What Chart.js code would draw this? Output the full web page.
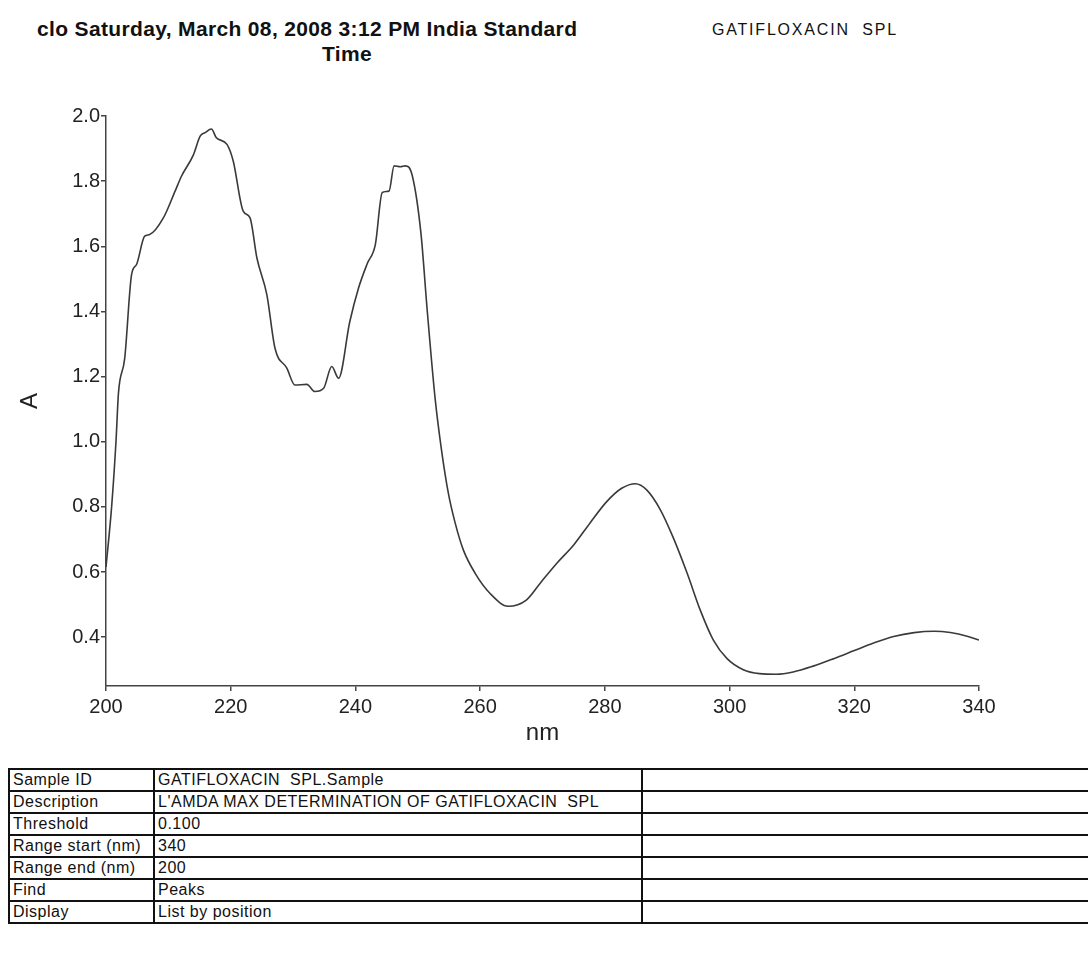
<!DOCTYPE html>
<html>
<head>
<meta charset="utf-8">
<script src="https://cdn.jsdelivr.net/npm/chart.js@4"></script>
<style>
  body { margin: 0; background: #fff; width: 1088px; height: 959px; overflow: hidden; position: relative;
         font-family: "Liberation Sans", Arial, sans-serif; color: #111; }
  .hdr { position: absolute; white-space: nowrap; }
  #title1 { left: 37px; top: 17px; font-size: 21px; font-weight: bold; letter-spacing: 0.35px; }
  #title2 { left: 322px; top: 42px; font-size: 21px; font-weight: bold; letter-spacing: 0.35px; }
  #sample { left: 712px; top: 21px; font-size: 16px; letter-spacing: 1.8px; }
  #spectrum { position: absolute; left: 0; top: 90px; }
  table { position: absolute; left: 8px; top: 768px; border-collapse: collapse; width: 1100px; }
  td { border: 2px solid #111; height: 20px; padding: 0 3px; font-size: 16px; line-height: 20px;
       letter-spacing: 0.5px; white-space: pre; }
  td.c1 { width: 137px; }
  td.c2 { width: 480px; }
</style>
</head>
<body>
<div class="hdr" id="title1">clo Saturday, March 08, 2008 3:12 PM India Standard</div>
<div class="hdr" id="title2">Time</div>
<div class="hdr" id="sample">GATIFLOXACIN&nbsp; SPL</div>
<canvas id="spectrum" width="1088" height="670"></canvas>
<table id="params"></table>
<script>
// spectrum (nm, absorbance)
const wavelengths = [200.0, 200.9, 201.6, 202.0, 203.0, 204.1, 204.9, 206.2, 207.0, 209.2, 211.1, 212.1, 214.0, 215.1, 215.9, 216.9,
  217.7, 219.4, 220.4, 222.0, 223.1, 224.2, 225.8, 227.1, 229.0, 230.3, 232.2, 233.5, 234.9, 236.2, 237.3, 239.1, 240.5, 241.9,
  243.2, 244.3, 245.4, 246.2, 247.2, 248.0, 249.1, 250.5, 251.5, 252.8, 253.8, 254.9, 256.0, 257.3, 259.2, 261.6, 264.5, 267.4,
  269.6, 272.3, 275.0, 277.6, 280.3, 282.7, 284.9, 286.7, 288.9, 291.0, 293.2, 295.3, 297.4, 299.6, 302.2, 304.8, 307.5, 310.2,
  313.4, 316.7, 319.9, 323.1, 326.3, 329.6, 332.8, 335.4, 338.1, 340.0];
const absorbance = [0.615, 0.80, 1.00, 1.15, 1.256, 1.513, 1.544, 1.631, 1.636, 1.687, 1.77, 1.815, 1.88, 1.938, 1.949, 1.96,
  1.933, 1.913, 1.862, 1.708, 1.687, 1.564, 1.451, 1.287, 1.226, 1.174, 1.176, 1.154, 1.164, 1.231, 1.195, 1.369, 1.472, 1.547,
  1.606, 1.765, 1.77, 1.847, 1.844, 1.847, 1.818, 1.641, 1.406, 1.129, 0.975, 0.842, 0.75, 0.668, 0.596, 0.534, 0.495, 0.514,
  0.565, 0.627, 0.683, 0.75, 0.816, 0.857, 0.871, 0.852, 0.791, 0.704, 0.596, 0.483, 0.391, 0.334, 0.30, 0.288, 0.286, 0.293,
  0.311, 0.334, 0.358, 0.382, 0.402, 0.414, 0.418, 0.414, 0.403, 0.391];

const xTicks = [200, 220, 240, 260, 280, 300, 320, 340];
const yTicks = [0.4, 0.6, 0.8, 1.0, 1.2, 1.4, 1.6, 1.8, 2.0];

const paramNames = ["Sample ID", "Description", "Threshold", "Range start (nm)", "Range end (nm)", "Find", "Display"];
const paramValues = ["GATIFLOXACIN  SPL.Sample", "L'AMDA MAX DETERMINATION OF GATIFLOXACIN  SPL", "0.100", "340", "200", "Peaks", "List by position"];

document.addEventListener("DOMContentLoaded", () => {
  const table = document.getElementById("params");
  paramNames.forEach((name, i) => {
    const row = document.createElement("tr");
    const a = document.createElement("td");
    a.className = "c1";
    a.textContent = name;
    const b = document.createElement("td");
    b.className = "c2";
    b.textContent = paramValues[i];
    const c = document.createElement("td");
    row.append(a, b, c);
    table.appendChild(row);
  });

  const font = "'Liberation Sans', Arial, sans-serif";
  const ctx = document.getElementById("spectrum").getContext("2d");
  new Chart(ctx, {
    type: "line",
    data: {
      datasets: [{
        data: wavelengths.map((w, i) => ({ x: w, y: absorbance[i] })),
        borderColor: "#3a3a3a",
        borderWidth: 1.6,
        pointRadius: 0,
        fill: false,
        cubicInterpolationMode: "monotone"
      }]
    },
    options: {
      responsive: false,
      animation: false,
      devicePixelRatio: 1,
      layout: { padding: { top: 26, right: 109, bottom: 0, left: 0 } },
      plugins: { legend: { display: false }, tooltip: { enabled: false } },
      scales: {
        x: {
          type: "linear",
          min: 200,
          max: 340,
          afterBuildTicks: s => { s.ticks = xTicks.map(v => ({ value: v })); },
          afterFit: s => { s.height = 74; },
          grid: { drawOnChartArea: false, tickLength: 5, color: "#444", lineWidth: 1.5 },
          border: { color: "#444", width: 1.5 },
          ticks: { font: { family: font, size: 20 }, color: "#222", padding: 4, maxRotation: 0, autoSkip: false },
          title: { display: true, text: "nm", font: { family: font, size: 24 }, color: "#222", padding: { top: 0, bottom: 12 } }
        },
        y: {
          min: 0.25,
          max: 2.0,
          afterBuildTicks: s => { s.ticks = yTicks.map(v => ({ value: v })); },
          afterFit: s => { s.width = 106; },
          grid: { drawOnChartArea: false, tickLength: 5, color: "#444", lineWidth: 1.5 },
          border: { color: "#444", width: 1.5 },
          ticks: { font: { family: font, size: 20 }, color: "#222", padding: 1, callback: v => v.toFixed(1) },
          title: { display: true, text: "A", font: { family: font, size: 24 }, color: "#222", padding: { top: 16, bottom: 0 } }
        }
      }
    }
  });
});
</script>
</body>
</html>
